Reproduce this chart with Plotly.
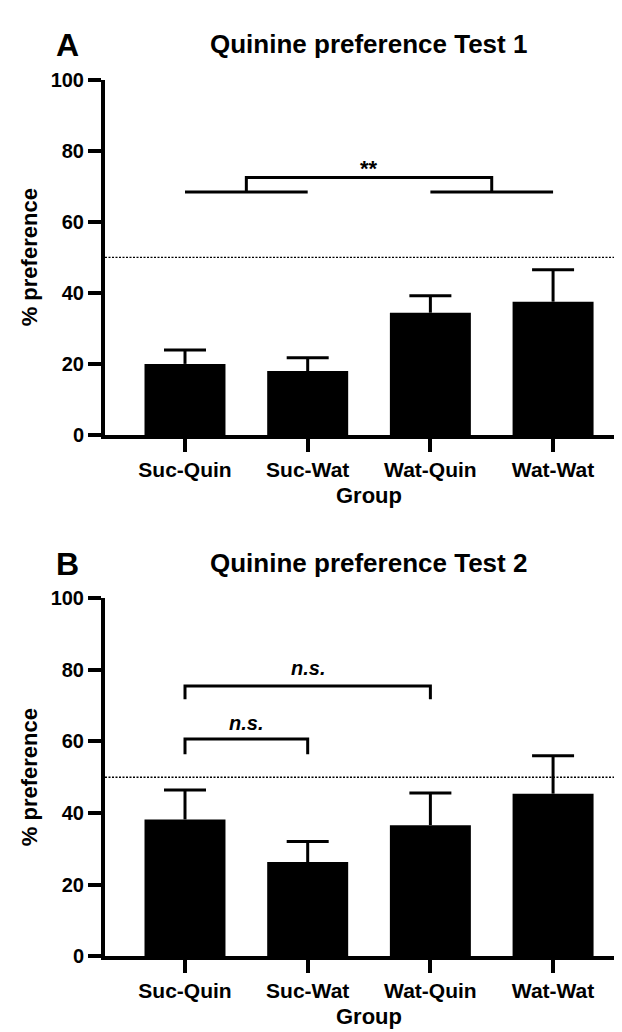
import plotly.graph_objects as go

# ---------------- data ----------------
categories = ["Suc-Quin", "Suc-Wat", "Wat-Quin", "Wat-Wat"]
test1_mean = [20.0, 18.0, 34.4, 37.5]
test1_sem = [3.9, 3.7, 4.8, 9.0]
test2_mean = [38.2, 26.3, 36.6, 45.4]
test2_sem = [8.2, 5.7, 9.0, 10.6]
chance_level = 50
y_ticks = [0, 20, 40, 60, 80, 100]
titles = ["Quinine preference Test 1", "Quinine preference Test 2"]
panel_letters = ["A", "B"]
y_title = "% preference"
x_title = "Group"

# ---------------- layout constants ----------------
W, H = 622, 1032
FONT = "Liberation Sans, Arial, sans-serif"
X_RANGE = [-0.652, 3.627]
X_DOMAIN = [97 / W, 1.0]
PX_PER_CAT = (W - 97) / (X_RANGE[1] - X_RANGE[0])
CAP_HALF = 21 / PX_PER_CAT
# pixel rows: (y of 0, y of 100)
PANELS = [(425, 62), (957.5, 592)]

fig = go.Figure()
idx = list(range(len(categories)))

def py(p):
    return 1 - p / H

line_style = dict(color="black", width=3)

for k, (means, sems) in enumerate([(test1_mean, test1_sem), (test2_mean, test2_sem)]):
    xa = "x" if k == 0 else "x2"
    ya = "y" if k == 0 else "y2"
    fig.add_trace(go.Bar(
        x=idx, y=means, width=0.66, marker=dict(color="black", line=dict(width=0)),
        xaxis=xa, yaxis=ya, showlegend=False, hoverinfo="skip"))
    # one-sided (upper) error bars
    ex, ey = [], []
    for i, (m, s) in enumerate(zip(means, sems)):
        ex += [i, i, None, i - CAP_HALF, i + CAP_HALF, None]
        ey += [m, m + s, None, m + s, m + s, None]
    fig.add_trace(go.Scatter(x=ex, y=ey, mode="lines", line=line_style,
                             xaxis=xa, yaxis=ya, showlegend=False, hoverinfo="skip"))
    # chance level dotted line
    fig.add_trace(go.Scatter(
        x=[X_RANGE[0], 3.5], y=[chance_level, chance_level], mode="lines",
        line=dict(color="black", width=1.3, dash="2px,1.5px"),
        xaxis=xa, yaxis=ya, showlegend=False, hoverinfo="skip"))

# Panel A bracket: (Suc-Quin, Suc-Wat) vs (Wat-Quin, Wat-Wat)
fig.add_trace(go.Scatter(x=[0, 1], y=[68.4, 68.4], mode="lines", line=line_style,
                         xaxis="x", yaxis="y", showlegend=False, hoverinfo="skip"))
fig.add_trace(go.Scatter(x=[2, 3], y=[68.4, 68.4], mode="lines", line=line_style,
                         xaxis="x", yaxis="y", showlegend=False, hoverinfo="skip"))
fig.add_trace(go.Scatter(x=[0.5, 0.5, 2.5, 2.5], y=[68.4, 72.5, 72.5, 68.4], mode="lines",
                         line=line_style, xaxis="x", yaxis="y", showlegend=False, hoverinfo="skip"))

# Panel B brackets
fig.add_trace(go.Scatter(x=[0, 0, 1, 1], y=[56.4, 60.7, 60.7, 56.4], mode="lines", line=line_style,
                         xaxis="x2", yaxis="y2", showlegend=False, hoverinfo="skip"))
fig.add_trace(go.Scatter(x=[0, 0, 2, 2], y=[71.8, 75.5, 75.5, 71.8], mode="lines", line=line_style,
                         xaxis="x2", yaxis="y2", showlegend=False, hoverinfo="skip"))

annotations = [
    dict(x=1.5, y=75.1, xref="x", yref="y", text="<b>**</b>", showarrow=False,
         font=dict(family=FONT, size=22, color="black")),
    dict(x=0.5, y=65.1, xref="x2", yref="y2", text="<b><i>n.s.</i></b>", showarrow=False,
         font=dict(family=FONT, size=20, color="black")),
    dict(x=1.0, y=80.5, xref="x2", yref="y2", text="<b><i>n.s.</i></b>", showarrow=False,
         font=dict(family=FONT, size=20, color="black")),
]

axis_common_x = dict(range=X_RANGE, domain=X_DOMAIN, tickmode="array", tickvals=idx,
                     ticktext=categories, showline=True, linecolor="black", linewidth=4,
                     ticks="outside", ticklen=13, tickwidth=3.5, tickcolor="black",
                     showgrid=False, zeroline=False, fixedrange=True,
                     tickfont=dict(family=FONT, size=21, color="black", weight="bold"))
axis_common_y = dict(range=[0, 100], tickmode="array", tickvals=y_ticks,
                     showline=True, linecolor="black", linewidth=4,
                     ticks="outside", ticklen=13, tickwidth=3.5, tickcolor="black",
                     showgrid=False, zeroline=False, fixedrange=True,
                     tickfont=dict(family=FONT, size=20, color="black", weight="bold"))

layout = dict(width=W, height=H, margin=dict(l=0, r=0, t=0, b=0),
              paper_bgcolor="white", plot_bgcolor="white")

for k, (p0, p100) in enumerate(PANELS):
    suffix = "" if k == 0 else "2"
    layout["xaxis" + suffix] = dict(axis_common_x, anchor="y" + suffix)
    layout["yaxis" + suffix] = dict(axis_common_y, anchor="x" + suffix,
                                    domain=[py(p0), py(p100)])
    mid = (p0 + p100) / 2
    annotations.append(dict(x=21 / W, y=py(mid), xref="paper", yref="paper", text=y_title,
                            textangle=-90, showarrow=False, xanchor="center", yanchor="middle",
                            font=dict(family=FONT, size=22, color="black", weight="bold")))
    annotations.append(dict(x=361 / W, y=py(p0 + 62), xref="paper", yref="paper", text=x_title,
                            showarrow=False, xanchor="center", yanchor="middle",
                            font=dict(family=FONT, size=22, color="black", weight="bold")))
    annotations.append(dict(x=360 / W, y=py(p100 - 36), xref="paper", yref="paper", text=titles[k],
                            showarrow=False, xanchor="center", yanchor="middle",
                            font=dict(family=FONT, size=26, color="black", weight="bold")))
    annotations.append(dict(x=59 / W, y=py(p100 - 35), xref="paper", yref="paper", text=panel_letters[k],
                            showarrow=False, xanchor="center", yanchor="middle",
                            font=dict(family=FONT, size=32, color="black", weight="bold")))

layout["annotations"] = annotations
fig.update_layout(**layout)
fig.write_html("out.html")
